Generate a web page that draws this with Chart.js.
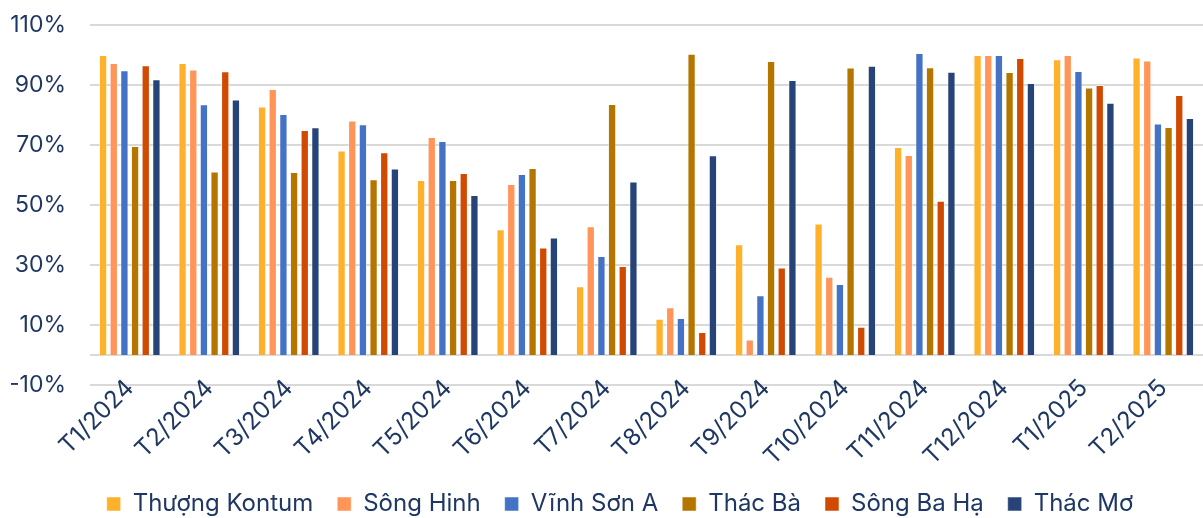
<!DOCTYPE html>
<html>
<head>
<meta charset="utf-8">
<script src="https://cdn.jsdelivr.net/npm/chart.js@4"></script>
<style>
  html, body { margin: 0; padding: 0; background: #fff; }
  #wrap { width: 1203px; height: 518px; }
</style>
</head>
<body>
<div id="wrap"><canvas id="chart"></canvas></div>
<script>
// months on the x axis
const months = ["T1/2024", "T2/2024", "T3/2024", "T4/2024", "T5/2024", "T6/2024", "T7/2024",
  "T8/2024", "T9/2024", "T10/2024", "T11/2024", "T12/2024", "T1/2025", "T2/2025"];

// series values (%)
const thuongKontum = [100, 97.3, 82.8, 68.2, 58.3, 41.9, 22.9, 12.1, 36.9, 43.8, 69.3, 100, 98.6, 99.2];
const songHinh     = [97.3, 95.2, 88.7, 78.2, 72.7, 57, 42.9, 15.9, 5.2, 26.1, 66.7, 100, 100, 98.2];
const vinhSonA     = [94.9, 83.6, 80.3, 76.9, 71.3, 60.3, 33, 12.3, 19.9, 23.7, 100.7, 100, 94.7, 77.2];
const thacBa       = [69.7, 61.2, 61, 58.6, 58.3, 62.3, 83.7, 100.4, 98, 95.8, 95.9, 94.3, 89.2, 76];
const songBaHa     = [96.6, 94.6, 75, 67.6, 60.7, 35.8, 29.7, 7.7, 29.2, 9.4, 51.4, 99, 90, 86.7];
const thacMo       = [91.9, 85.2, 75.9, 62.2, 53.3, 39.2, 57.8, 66.6, 91.7, 96.4, 94.4, 90.7, 84.1, 79];

const seriesNames = ["Thượng Kontum", "Sông Hinh", "Vĩnh Sơn A", "Thác Bà", "Sông Ba Hạ", "Thác Mơ"];
const seriesData = [thuongKontum, songHinh, vinhSonA, thacBa, songBaHa, thacMo];
const seriesColors = ["#ffb12b", "#ff9559", "#4473c5", "#b57600", "#d04a02", "#264478"];

const textColor = "#1f3763";
const gridColor = "#d9d9d9";

// draws the horizontal line at 0 (the category axis crossing)
const zeroLine = {
  id: "zeroLine",
  beforeDatasetsDraw(chart) {
    const y = chart.scales.y.getPixelForValue(0);
    const area = chart.chartArea;
    const ctx = chart.ctx;
    ctx.save();
    ctx.strokeStyle = gridColor;
    ctx.lineWidth = 2;
    ctx.beginPath();
    ctx.moveTo(area.left, y);
    ctx.lineTo(area.right, y);
    ctx.stroke();
    ctx.restore();
  }
};

// the legend in the original sits a little right of the page centre
const legendShift = {
  id: "legendShift",
  afterLayout(chart) {
    chart.legend.left += 13;
    chart.legend.right += 13;
  }
};

new Chart(document.getElementById("chart"), {
  type: "bar",
  data: {
    labels: months,
    datasets: seriesNames.map((name, i) => ({
      label: name,
      data: seriesData[i],
      backgroundColor: seriesColors[i],
      borderColor: "rgba(255,255,255,0.5)",
      borderWidth: 1,
      categoryPercentage: 0.805,
      barPercentage: 0.78
    }))
  },
  options: {
    responsive: true,
    maintainAspectRatio: false,
    animation: false,
    layout: { padding: { top: 25, right: 0, left: 11, bottom: 0 } },
    scales: {
      x: {
        grid: { display: false },
        border: { display: false },
        ticks: {
          color: textColor,
          font: { family: "Inter", size: 24 },
          maxRotation: 45,
          minRotation: 45,
          padding: -19,
          labelOffset: 0
        },
        afterFit: s => {
          s.paddingLeft = 0;
          s.paddingRight = 0;
          s.height = 83;
          s._computeLabelArea = () => null; // let the slanted labels overlap the legend band
        }
      },
      y: {
        min: -10,
        max: 110,
        border: { display: false },
        grid: { color: gridColor, lineWidth: 2, drawTicks: false },
        ticks: {
          stepSize: 20,
          color: textColor,
          font: { family: "Inter", size: 23 },
          padding: 24,
          callback: v => v + "%"
        },
        afterFit: s => { s.width = 79; s.paddingTop = 0; s.paddingBottom = 0; }
      }
    },
    plugins: {
      legend: {
        position: "bottom",
        maxHeight: 50,
        labels: {
          color: textColor,
          font: { family: "Inter", size: 24 },
          boxWidth: 14,
          boxHeight: 14,
          padding: 24
        }
      },
      tooltip: { enabled: false }
    }
  },
  plugins: [zeroLine, legendShift]
});
</script>
</body>
</html>
